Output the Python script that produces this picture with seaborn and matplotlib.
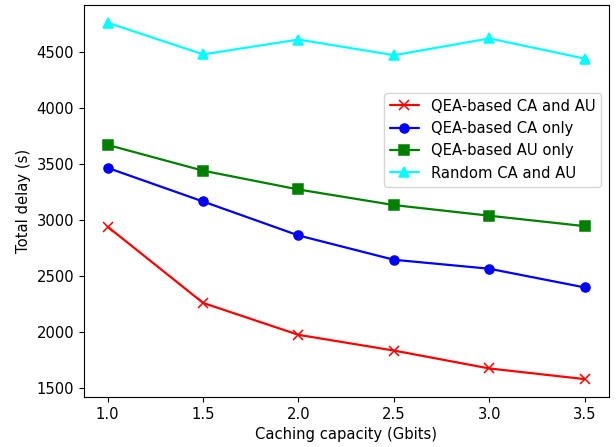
import numpy as np
import pandas as pd
import seaborn as sns
import matplotlib
matplotlib.use("Agg")
import matplotlib.pyplot as plt

capacity = [1.0, 1.5, 2.0, 2.5, 3.0, 3.5]
qea_ca_au = [2940, 2260, 1975, 1835, 1675, 1580]
qea_ca_only = [3465, 3165, 2862, 2645, 2565, 2398]
qea_au_only = [3670, 3440, 3272, 3133, 3038, 2945]
random_ca_au = [4760, 4478, 4610, 4470, 4620, 4440]

names = ["QEA-based CA and AU", "QEA-based CA only", "QEA-based AU only", "Random CA and AU"]
series = [qea_ca_au, qea_ca_only, qea_au_only, random_ca_au]
colors = ["red", "blue", "green", "cyan"]
markers = ["x", "o", "s", "^"]

sns.set_style("ticks", rc={"axes.edgecolor": "black", "text.color": "black",
                           "axes.labelcolor": "black", "xtick.color": "black",
                           "ytick.color": "black"})
plt.rcParams["font.family"] = ["DejaVu Sans"]
fs = 10.6

fig = plt.figure(figsize=(6.16, 4.47), dpi=100)
ax = fig.add_axes([0.136, 0.112, 0.852, 0.877])

for name, vals, c, m in zip(names, series, colors, markers):
    sns.lineplot(x=capacity, y=vals, color=c, marker=m, label=name,
                 markersize=6.5, linewidth=1.6, markeredgecolor=c,
                 markeredgewidth=1.1, ax=ax)

ax.set_xlabel("Caching capacity (Gbits)", fontsize=fs)
ax.set_ylabel("Total delay (s)", fontsize=fs)
ax.set_xticks(capacity)
ax.set_yticks([1500, 2000, 2500, 3000, 3500, 4000, 4500])
ax.tick_params(labelsize=fs)
ax.legend(loc="upper right", bbox_to_anchor=(1.0, 0.795), fontsize=fs,
          edgecolor="0.8")

fig.savefig("out.png", dpi=100)
